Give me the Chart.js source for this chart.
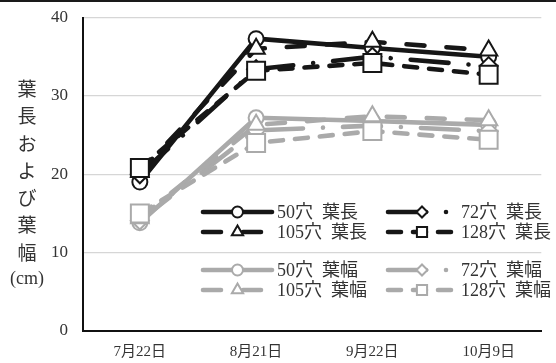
<!DOCTYPE html>
<html><head><meta charset="utf-8">
<script src="https://cdn.jsdelivr.net/npm/chart.js@4.4.1/dist/chart.umd.min.js"></script>
<style>
html,body{margin:0;padding:0;background:#fff;}
#wrap{position:relative;width:556px;height:363px;overflow:hidden;}
#topline{position:absolute;left:0;top:0;width:556px;height:0;border-top:2px solid #1a1a1a;}
#ytitle{position:absolute;left:5px;top:74px;width:44px;text-align:center;font-family:'Noto Sans CJK JP',sans-serif;font-size:19px;line-height:27.3px;color:#333;}
#ytitle span{display:block;}
#ytitle span.cm{font-family:'Liberation Serif','Noto Sans CJK JP',serif;font-size:18px;}
canvas{position:absolute;left:0;top:0;}
</style></head>
<body><div id="wrap"><canvas id="c" width="556" height="363"></canvas><div id="topline"></div><div id="ytitle"></div></div>
<script>
// ---- data ----
const categories = ['7月22日', '8月21日', '9月22日', '10月9日'];
const yTickValues = [0, 10, 20, 30, 40];
const yTitleChars = ['葉', '長', 'お', 'よ', 'び', '葉', '幅', '(cm)'];
const seriesNames = ['50穴\u2002葉長', '72穴\u2002葉長', '105穴\u2002葉長', '128穴\u2002葉長',
                     '50穴\u2002葉幅', '72穴\u2002葉幅', '105穴\u2002葉幅', '128穴\u2002葉幅'];
const len50  = [19.0, 37.3, 36.1, 35.0];
const len72  = [20.0, 33.4, 35.0, 33.8];
const len105 = [20.3, 36.0, 36.9, 35.8];
const len128 = [20.8, 33.2, 34.2, 32.7];
const wid50  = [13.8, 27.2, 26.8, 26.3];
const wid72  = [14.1, 25.6, 26.2, 25.5];
const wid105 = [14.4, 26.3, 27.4, 26.9];
const wid128 = [15.0, 24.0, 25.5, 24.4];

// ---- styles ----
const BLACK = '#161616', GRAY = '#aaaaaa';
const DASH = { solid: [], ldd: [38, 20, 0.01, 20], long: [18, 22], dash: [13, 12] };
const seriesValues = [len50, len72, len105, len128, wid50, wid72, wid105, wid128];
const seriesColor = [BLACK, BLACK, BLACK, BLACK, GRAY, GRAY, GRAY, GRAY];
const seriesDash = [DASH.solid, DASH.ldd, DASH.long, DASH.dash, DASH.solid, DASH.ldd, DASH.long, DASH.dash];
const seriesMarker = ['circle', 'rectRot', 'triangle', 'rect', 'circle', 'rectRot', 'triangle', 'rect'];
const markerRadius = { circle: 7.5, rectRot: 9, triangle: 10, rect: 12.7 };
const legendMarkerRadius = { circle: 5.5, rectRot: 5.5, triangle: 6.5, rect: 7.2 };

document.getElementById('ytitle').innerHTML = yTitleChars.map(c => '<span' + (c.length > 1 ? ' class="cm"' : '') + '>' + c + '</span>').join('');

const FONT = "'Liberation Serif','Noto Sans CJK JP',serif";

const datasets = seriesValues.map((vals, i) => ({
  label: seriesNames[i],
  data: vals.map((v, k) => ({ x: k, y: v })),
  borderColor: seriesColor[i],
  borderWidth: 4.6,
  borderDash: seriesDash[i],
  borderCapStyle: 'round',
  borderJoinStyle: 'round',
  tension: 0,
  fill: false,
  pointStyle: seriesMarker[i],
  pointRadius: markerRadius[seriesMarker[i]],
  pointHoverRadius: markerRadius[seriesMarker[i]],
  pointBorderWidth: 2,
  pointBorderColor: seriesColor[i],
  pointBackgroundColor: '#ffffff',
  order: seriesValues.length - 1 - i
}));

function drawMarker(ctx, style, x, y, r) {
  ctx.beginPath();
  if (style === 'circle') ctx.arc(x, y, r, 0, Math.PI * 2);
  else if (style === 'rect') { const s = r * Math.SQRT1_2; ctx.rect(x - s, y - s, 2 * s, 2 * s); }
  else if (style === 'rectRot') { ctx.moveTo(x, y - r); ctx.lineTo(x + r, y); ctx.lineTo(x, y + r); ctx.lineTo(x - r, y); ctx.closePath(); }
  else if (style === 'triangle') {
    const a = 2 * Math.PI / 3;
    ctx.moveTo(x, y - r);
    ctx.lineTo(x + r * Math.sin(a), y - r * Math.cos(a));
    ctx.lineTo(x + r * Math.sin(2 * a), y - r * Math.cos(2 * a));
    ctx.closePath();
  }
  ctx.fillStyle = '#fff';
  ctx.fill();
  ctx.stroke();
}

const legendRowsY = [212, 232, 270, 290];
const legendCols = [{ x0: 203, x1: 272, tx: 277 }, { x0: 388, x1: 456, tx: 461 }];

const customLegend = {
  id: 'customLegend',
  afterDatasetsDraw(chart) {
    const ctx = chart.ctx;
    chart.data.datasets.forEach((ds, i) => {
      const col = legendCols[i % 2];
      const y = legendRowsY[Math.floor(i / 2)];
      ctx.save();
      ctx.strokeStyle = ds.borderColor;
      ctx.lineWidth = 4.6;
      ctx.lineCap = 'round';
      ctx.setLineDash(ds.borderDash);
      ctx.beginPath();
      ctx.moveTo(col.x0, y);
      ctx.lineTo(col.x1, y);
      ctx.stroke();
      ctx.setLineDash([]);
      ctx.lineWidth = 2;
      drawMarker(ctx, ds.pointStyle, (col.x0 + col.x1) / 2, y, legendMarkerRadius[ds.pointStyle]);
      ctx.fillStyle = '#333';
      ctx.font = '18px ' + FONT;
      ctx.textAlign = 'left';
      ctx.textBaseline = 'middle';
      ctx.fillText(ds.label, col.tx, y + 1);
      ctx.restore();
    });
  }
};

new Chart(document.getElementById('c'), {
  type: 'line',
  data: { datasets },
  options: {
    responsive: false,
    animation: false,
    events: [],
    layout: { padding: { top: 17.5, right: 0, left: 0, bottom: 0 } },
    plugins: { legend: { display: false }, tooltip: { enabled: false } },
    scales: {
      x: {
        type: 'linear',
        min: -0.489,
        max: 3.453,
        afterBuildTicks: s => { s.ticks = categories.map((c, k) => ({ value: k })); },
        afterFit: s => { s.height = 32; s.paddingLeft = 0; s.paddingRight = 0; s.paddingTop = 0; s.paddingBottom = 0; },
        grid: { display: false, drawTicks: false },
        border: { display: true, color: '#111', width: 2 },
        ticks: {
          callback: v => categories[v],
          padding: 12,
          color: '#333',
          font: { family: FONT, size: 15 },
          maxRotation: 0,
          autoSkip: false
        }
      },
      y: {
        min: 0,
        max: 40,
        afterBuildTicks: s => { s.ticks = yTickValues.map(v => ({ value: v })); },
        afterFit: s => { s.width = 83; s.paddingLeft = 0; s.paddingRight = 0; s.paddingTop = 0; s.paddingBottom = 0; },
        grid: { color: '#d6d6d6', lineWidth: 1.2, drawTicks: false },
        border: { display: true, color: '#111', width: 2 },
        ticks: {
          padding: 15,
          color: '#333',
          font: { family: FONT, size: 17 }
        }
      }
    }
  },
  plugins: [customLegend]
});
</script>
</body></html>
